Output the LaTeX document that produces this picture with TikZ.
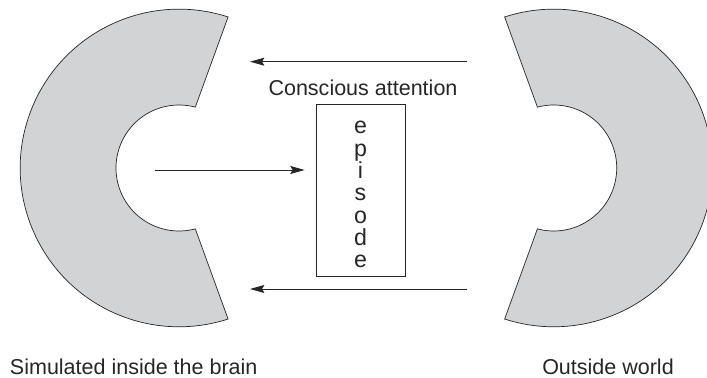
\documentclass[tikz,border=0pt]{standalone}
\usepackage{fontspec}
\setmainfont{Liberation Sans}
\usepackage{tikz}
\usetikzlibrary{arrows.meta,positioning}
\definecolor{brainfill}{RGB}{209,211,212}

\begin{document}
\begin{tikzpicture}[
    brain/.style={draw=black!85, fill=brainfill, line width=0.5pt},
    flow/.style={-{Stealth[length=3.6mm, width=2mm, inset=0.6mm]}, line width=0.6pt, black!85},
    episodebox/.style={draw=black!85, line width=0.5pt, align=center, minimum width=2.225cm, minimum height=4.3cm,
        font=\fontsize{16.5}{15.9}\selectfont, text=black!85},
    caption/.style={font=\fontsize{15.3}{18}\selectfont, text=black!85}
]
\clip (0,0) rectangle (17.675,9.45);

% centres of the two rings
\coordinate (simc) at (4.475,5.25);
\coordinate (outc) at (13.8425,5.25);

% simulated side (opens to the right)
\draw[brain] ([shift={(72:3.97)}]simc) arc[start angle=72, end angle=288, radius=3.97]
    -- ([shift={(285:1.575)}]simc) arc[start angle=285, end angle=75, radius=1.575] -- cycle;

% outside side (opens to the left)
\draw[brain] ([shift={(108:3.97)}]outc) arc[start angle=108, end angle=-108, radius=3.97]
    -- ([shift={(-105:1.575)}]outc) arc[start angle=-105, end angle=105, radius=1.575] -- cycle;

% episode box and the label above it
\node[episodebox] (episode) at (9.0125,4.7) {\rule{0pt}{15.5pt}e\\p\\i\\s\\o\\d\\e};
\node[caption, anchor=base] (attn) at (9.075,7.0575) {Conscious attention};

% arrows
\coordinate (topR) at (11.675,7.9075);
\coordinate (topL) at (6.25,7.9075);
\coordinate (botR) at (11.675,2.225);
\coordinate (botL) at (6.25,2.225);
\coordinate (midL) at (3.875,5.2);

\draw[flow] (topR) -- (topL);
\draw[flow] (botR) -- (botL);
\draw[flow] (midL) -- ([xshift=-2.75mm]episode.west |- midL);

% captions under the rings
\node[caption, anchor=base west] (simlbl) at (0.125,0.075) {Simulated inside the brain};
\node[caption, anchor=base] (outlbl) at (15.2,0.075) {Outside world};

\end{tikzpicture}
\end{document}
